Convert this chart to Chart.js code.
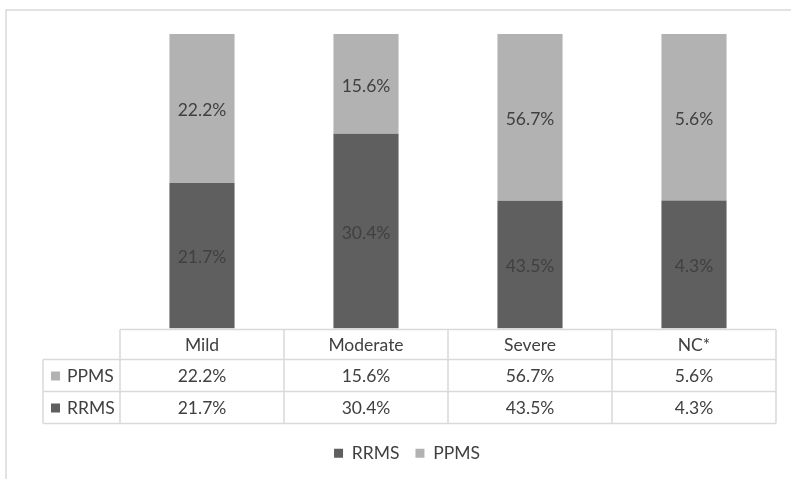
<!DOCTYPE html>
<html>
<head>
<meta charset="utf-8">
<script src="https://cdn.jsdelivr.net/npm/chart.js@4.4.0/dist/chart.umd.min.js"></script>
<style>
html,body{margin:0;padding:0;background:#fff;}
#wrap{position:relative;width:791px;height:479px;}
</style>
</head>
<body>
<div id="wrap"><canvas id="c" width="791" height="479"></canvas></div>
<script>
const categories = ['Mild', 'Moderate', 'Severe', 'NC*'];
const seriesNames = ['RRMS', 'PPMS'];
const rrmsValues = [21.7, 30.4, 43.5, 4.3];
const ppmsValues = [22.2, 15.6, 56.7, 5.6];
const seriesColors = ['#5f5f5f', '#b2b2b2'];

const FONT = 'Lato, "Open Sans", sans-serif';
const FSIZE = 17.5;
const TEXT = '#404040';
const GRID = '#d9d9d9';

// 100% stacked shares from the values
const totals = categories.map((_, i) => rrmsValues[i] + ppmsValues[i]);
const rrmsShare = rrmsValues.map((v, i) => v / totals[i] * 100);
const ppmsShare = ppmsValues.map((v, i) => v / totals[i] * 100);
const rawValues = [rrmsValues, ppmsValues];

const fmt = v => v.toFixed(1) + '%';

const tablePlugin = {
  id: 'tablePlugin',
  beforeDraw(chart) {
    const ctx = chart.ctx;
    ctx.save();
    ctx.fillStyle = '#fff';
    ctx.fillRect(0, 0, chart.width, chart.height);
    ctx.strokeStyle = GRID;
    ctx.lineWidth = 1.5;
    ctx.beginPath();
    ctx.moveTo(6, chart.height);
    ctx.lineTo(6, 10);
    ctx.lineTo(chart.width, 10);
    ctx.stroke();
    ctx.restore();
  },
  afterDatasetsDraw(chart) {
    const ctx = chart.ctx;
    ctx.save();
    ctx.font = FSIZE + 'px ' + FONT;
    ctx.fillStyle = TEXT;
    ctx.textAlign = 'center';
    ctx.textBaseline = 'middle';
    chart.data.datasets.forEach((ds, di) => {
      const meta = chart.getDatasetMeta(di);
      meta.data.forEach((bar, i) => {
        const cy = (bar.y + bar.base) / 2 + 2;
        ctx.fillText(fmt(rawValues[di][i]), bar.x, cy);
      });
    });
    ctx.restore();
  },
  afterDraw(chart) {
    const ctx = chart.ctx;
    const xs = chart.scales.x;
    const area = chart.chartArea;
    const n = categories.length;
    const colW = (area.right - area.left) / n;
    const top = area.bottom + 1;
    const rowH = [30, 32, 32];
    const y0 = top, y1 = y0 + rowH[0], y2 = y1 + rowH[1], y3 = y2 + rowH[2];
    const labelLeft = 43;
    ctx.save();
    ctx.strokeStyle = GRID;
    ctx.lineWidth = 1.5;
    ctx.beginPath();
    ctx.moveTo(area.left, y0); ctx.lineTo(area.right, y0);
    [y1, y2, y3].forEach(y => { ctx.moveTo(labelLeft, y); ctx.lineTo(area.right, y); });
    ctx.moveTo(labelLeft, y1); ctx.lineTo(labelLeft, y3);
    for (let i = 0; i <= n; i++) {
      const x = area.left + i * colW;
      ctx.moveTo(x, y0); ctx.lineTo(x, y3);
    }
    ctx.stroke();

    ctx.font = FSIZE + 'px ' + FONT;
    ctx.fillStyle = TEXT;
    ctx.textAlign = 'center';
    ctx.textBaseline = 'middle';
    categories.forEach((c, i) => {
      const cx = xs.getPixelForValue(i);
      ctx.fillText(c, cx, (y0 + y1) / 2 + 1);
      ctx.fillText(fmt(ppmsValues[i]), cx, (y1 + y2) / 2 + 1);
      ctx.fillText(fmt(rrmsValues[i]), cx, (y2 + y3) / 2 + 1);
    });
    const rows = [[seriesNames[1], seriesColors[1], (y1 + y2) / 2], [seriesNames[0], seriesColors[0], (y2 + y3) / 2]];
    ctx.textAlign = 'left';
    rows.forEach(([name, col, cy]) => {
      ctx.fillStyle = col;
      ctx.fillRect(51, cy - 4, 9, 9);
      ctx.fillStyle = TEXT;
      ctx.fillText(name, 67, cy + 1);
    });
    ctx.restore();
  }
};

new Chart(document.getElementById('c'), {
  type: 'bar',
  data: {
    labels: categories,
    datasets: [
      { label: seriesNames[0], data: rrmsShare, backgroundColor: seriesColors[0] },
      { label: seriesNames[1], data: ppmsShare, backgroundColor: seriesColors[1] }
    ]
  },
  options: {
    responsive: false,
    animation: false,
    devicePixelRatio: 1,
    categoryPercentage: 1,
    barPercentage: 0.397,
    layout: { padding: { left: 38, right: 15, top: 34, bottom: 7 } },
    scales: {
      x: {
        stacked: true,
        grid: { display: false },
        border: { display: false },
        ticks: { display: false },
        afterFit(s) { s.height = 100; }
      },
      y: {
        stacked: true,
        display: true,
        min: 0,
        max: 100,
        grid: { display: false },
        border: { display: false },
        ticks: { display: false },
        afterFit(s) { s.width = 82; }
      }
    },
    plugins: {
      legend: {
        position: 'bottom',
        labels: {
          boxWidth: 9,
          boxHeight: 9,
          padding: 16,
          color: TEXT,
          font: { family: FONT, size: FSIZE }
        }
      },
      tooltip: { enabled: false }
    }
  },
  plugins: [tablePlugin]
});
</script>
</body>
</html>
